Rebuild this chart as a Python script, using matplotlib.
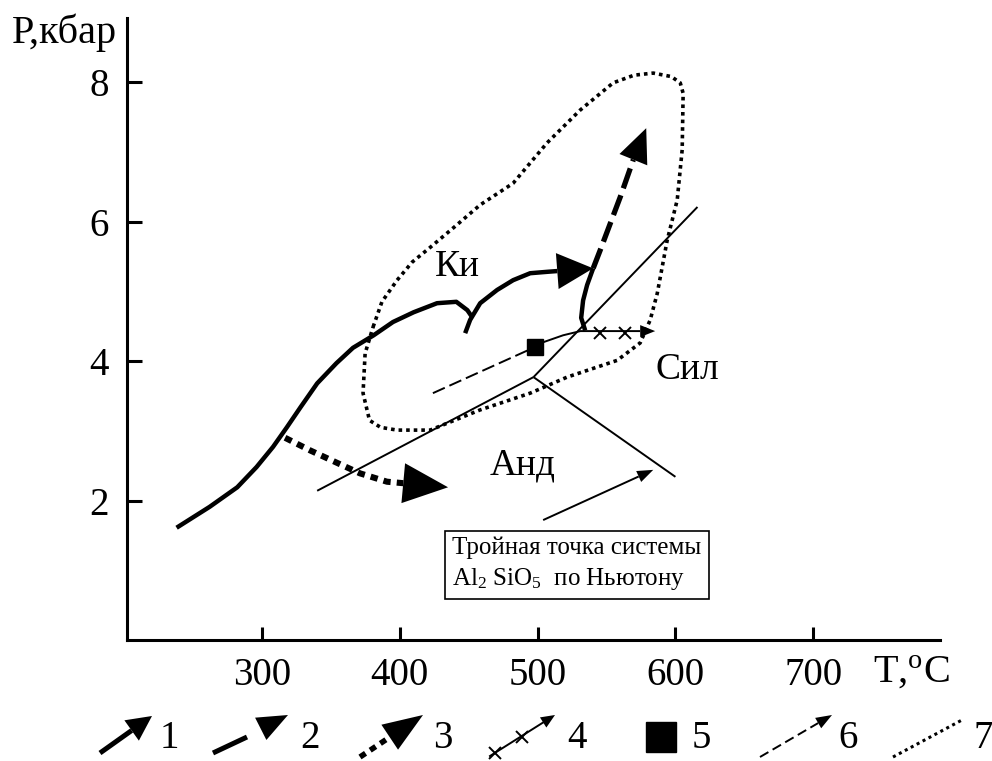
import numpy as np
import matplotlib
matplotlib.use('Agg')
import matplotlib.pyplot as plt

plt.rcParams['font.family'] = ['Liberation Serif', 'DejaVu Serif']
plt.rcParams['mathtext.fontset'] = 'custom'
plt.rcParams['mathtext.rm'] = 'Liberation Serif'
plt.rcParams['mathtext.it'] = 'Liberation Serif:italic'

# --- P-T path (1): prograde solid branch up to the cusp
path1_T = [238, 262, 282, 296, 308, 318, 328, 340, 354, 366, 381, 395, 410, 427, 441, 449, 452.5]
path1_P = [1.61, 1.91, 2.19, 2.48, 2.77, 3.05, 3.34, 3.68, 3.97, 4.19, 4.37, 4.56, 4.70, 4.83, 4.85, 4.73, 4.63]
# second arc, ends in arrow
arc2_T = [447.4, 451.0, 458.3, 470.6, 482.2, 494.6, 506.9, 540.3]
arc2_P = [4.40, 4.59, 4.83, 5.02, 5.16, 5.26, 5.28, 5.33]
# solid rise near the triple point
rise_T = [534.5, 531.6, 533.0, 535.9, 540.3]
rise_P = [4.44, 4.62, 4.87, 5.09, 5.33]
# dashed continuation (2)
up_T = [540.3, 545.4, 559.9, 569.3, 578.8]
up_P = [5.33, 5.59, 6.35, 6.88, 7.34]
# retrograde dotted arrow (3)
retro_T = [316.7, 334.8, 354.5, 371.1, 390.7, 405.3, 435.0]
retro_P = [2.90, 2.72, 2.54, 2.39, 2.27, 2.22, 2.19]
# field outline (7)
field_T = [380.6, 387.0, 398.0, 409.0, 422.0, 440.0, 458.3, 482.2, 506.9, 530.9, 554.8, 570.0,
           583.9, 597.0, 603.5, 605.6, 604.9, 601.3, 594.0, 586.8, 581.7, 574.4, 557.7, 521.4,
           494.6, 458.3, 422.0, 398.0, 386.0, 378.0, 373.3, 374.8, 380.6]
field_P = [4.49, 4.85, 5.16, 5.42, 5.63, 5.93, 6.24, 6.55, 7.13, 7.60, 7.99, 8.10,
           8.13, 8.08, 7.99, 7.84, 7.03, 6.31, 5.73, 4.97, 4.59, 4.26, 4.01, 3.77,
           3.54, 3.30, 3.01, 3.01, 3.05, 3.15, 3.54, 4.11, 4.49]
# Al2SiO5 triple point (Newton) and boundaries
triple_T, triple_P = 497, 3.77
ky_and_T, ky_and_P = [340, triple_T], [2.14, triple_P]
and_sil_T, and_sil_P = [triple_T, 600], [triple_P, 2.34]
ky_sil_T, ky_sil_P = [triple_T, 616], [triple_P, 6.21]
# square (5) and thin dashed trend (6)
square_T, square_P = 498, 4.20
dash6_T, dash6_P = [424, 498], [3.54, 4.20]
# crossed arrow (4)
cross_T = [498, 504, 518.5, 531, 585.3]
cross_P = [4.20, 4.27, 4.37, 4.43, 4.43]
xmark_T, xmark_P = [545, 563.5], [4.40, 4.40]
# box pointer
note_T, note_P = [504, 583.9], [1.72, 2.44]

phase_labels = ['Ки', 'Сил', 'Анд']
phase_T = [442, 608.5, 489]
phase_P = [5.35, 3.87, 2.51]

xticks = [300, 400, 500, 600, 700]
yticks = [2, 4, 6, 8]

fig = plt.figure(figsize=(9.92, 7.61), dpi=100)
ax = fig.add_axes([127 / 992, 121 / 761, 813 / 992, 622 / 761])
ax.set_xlim(202, 792)
ax.set_ylim(0, 8.92)
for s in ['top', 'right']:
    ax.spines[s].set_visible(False)
for s in ['left', 'bottom']:
    ax.spines[s].set_linewidth(2.2)
ax.set_xticks(xticks)
ax.set_yticks(yticks)
ax.tick_params(axis='x', direction='in', length=9.5, width=2.2, labelsize=28, pad=12)
ax.tick_params(axis='y', direction='in', length=10.8, width=2.2, labelsize=28, pad=13)

lax = fig.add_axes([0, 0, 1, 1])
lax.set_xlim(0, 992)
lax.set_ylim(761, 0)
lax.axis('off')


def arrow(a, xs, ys, L, W, **kw):
    """line through xs, ys ending in a filled head of L x W pixels at the last point"""
    tr = a.transData
    pts = tr.transform(np.column_stack([xs, ys]))
    tip = pts[-1]
    keep = [p for p in pts[:-1] if np.hypot(*(tip - p)) > L]
    tail = keep[-1]
    d = (tip - tail) / np.hypot(*(tip - tail))
    base = tip - L * d
    line = tr.inverted().transform(np.vstack(keep + [base]))
    a.plot(line[:, 0], line[:, 1], color='k', **kw)
    t0 = tr.inverted().transform(tail)
    a.annotate('', xy=(xs[-1], ys[-1]), xytext=tuple(t0),
               arrowprops=dict(arrowstyle=f'-|>,head_length={L * 0.072:.3f},head_width={W * 0.036:.3f}',
                               mutation_scale=10, lw=0, color='k', shrinkA=0, shrinkB=0))


thick = dict(lw=3.2, solid_capstyle='butt')
thin = dict(lw=1.4, solid_capstyle='butt')

# field outline
ax.plot(field_T, field_P, color='k', lw=2.6, ls=(0, (1, 1.1)))
# Al2SiO5 diagram
ax.plot(ky_and_T, ky_and_P, color='k', **thin)
ax.plot(and_sil_T, and_sil_P, color='k', **thin)
ax.plot(ky_sil_T, ky_sil_P, color='k', **thin)
ax.plot(dash6_T, dash6_P, color='k', lw=1.4, ls=(0, (6.7, 2.6)))
arrow(ax, cross_T, cross_P, 15, 12, **thin)
ax.plot(xmark_T, xmark_P, 'x', color='k', ms=9, mew=1.4)
ax.plot(square_T, square_P, 's', color='k', ms=11)

# P-T path
ax.plot(path1_T, path1_P, color='k', **thick)
arrow(ax, arc2_T, arc2_P, 36, 36, **thick)
ax.plot(rise_T, rise_P, color='k', **thick)
arrow(ax, up_T, up_P, 34, 30, lw=3.8, ls=(0, (4, 1.4)))
arrow(ax, retro_T, retro_P, 45, 40, lw=4.4, ls=(0, (1.2, 1.0)))

for lab, t, p in zip(phase_labels, phase_T, phase_P):
    ax.text(t, p, lab, fontsize=27, ha='center', va='center')

ax.text(437.9, 1.09, 'Тройная точка системы\nAl$_{2}$ SiO$_{5}$  по Ньютону', fontsize=18,
        ha='left', va='center', linespacing=1.35,
        bbox=dict(boxstyle='square,pad=0.3', fc='white', ec='k', lw=1.2))
arrow(ax, note_T, note_P, 16, 12, **thin)

lax.text(12, 33, 'P,кбар', fontsize=29, ha='left', va='center')
lax.text(873, 673, 'T,$^{\\rm o}$C', fontsize=29, ha='left', va='center')

# legend strip
arrow(lax, [100, 152], [753, 716], 25, 25, lw=3.6, solid_capstyle='butt')
lax.plot([213, 247], [753, 737], color='k', lw=3.6, solid_capstyle='butt')
lax.annotate('', xy=(288, 715), xytext=(213, 753),
             arrowprops=dict(arrowstyle='-|>,head_length=2.2,head_width=0.9',
                             mutation_scale=10, lw=0, color='k', shrinkA=0, shrinkB=0))
arrow(lax, [360, 423], [757, 715], 40, 30, lw=4.0, ls=(0, (1.2, 1.0)))
arrow(lax, [490, 555], [756, 715], 14, 12, lw=1.4)
lax.plot([495, 522], [753, 737], 'x', color='k', ms=9, mew=1.4)
lax.plot(661, 737, 's', color='k', ms=21)
arrow(lax, [760, 832], [757, 715], 16, 12, lw=1.4, ls=(0, (5, 2.5)))
lax.plot([893, 962], [757, 720], color='k', lw=2.2, ls=(0, (1, 1.2)))
for num, x in zip(['1', '2', '3', '4', '5', '6', '7'], [160, 300, 433, 567, 692, 838, 974]):
    lax.text(x, 738, num, fontsize=28, ha='left', va='center')

fig.savefig('out.png', dpi=100)
